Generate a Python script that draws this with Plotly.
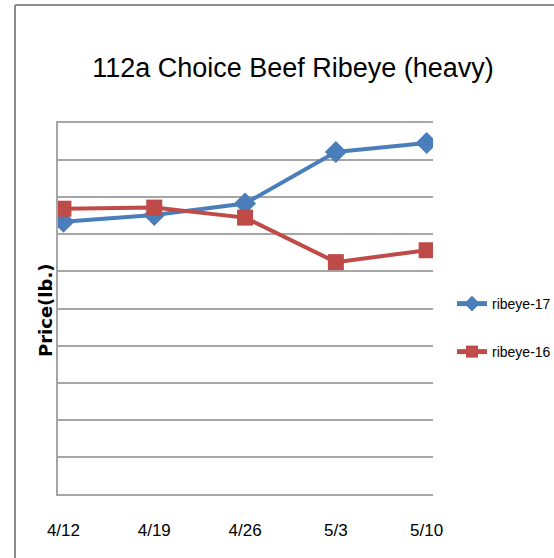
import plotly.graph_objects as go

categories = ["4/12", "4/19", "4/26", "5/3", "5/10"]
ribeye_17 = [7.34, 7.52, 7.83, 9.22, 9.46]
ribeye_16 = [7.69, 7.72, 7.45, 6.25, 6.57]

NARROW = "Liberation Sans Narrow, Arial Narrow, Liberation Sans, Arial, sans-serif"
BLUE = "#4A7EBB"
RED = "#BE4B48"
GRID = "#A6A6A6"

fig = go.Figure()
fig.add_trace(go.Scatter(
    x=categories, y=ribeye_17, name="ribeye-17", mode="lines+markers",
    line=dict(color=BLUE, width=4),
    marker=dict(symbol="diamond", size=17, color=BLUE),
    legend="legend",
))
fig.add_trace(go.Scatter(
    x=categories, y=ribeye_16, name="ribeye-16", mode="lines+markers",
    line=dict(color=RED, width=4),
    marker=dict(symbol="square", size=16, color=RED),
    legend="legend2",
))

W, H = 554, 558
L, R, T, B = 58, 121, 123, 64
pw = W - L - R
ph = H - T - B

def px_to_paper_x(px):
    return (px - L) / pw

def px_to_paper_y(py):
    return (H - B - py) / ph

legend_style = dict(
    xanchor="left", yanchor="middle",
    font=dict(family=NARROW, size=14, color="black"),
    bgcolor="rgba(0,0,0,0)", borderwidth=0,
    itemsizing="constant",
)

fig.update_layout(
    width=W, height=H,
    margin=dict(l=L, r=R, t=T, b=B, pad=0, autoexpand=False),
    paper_bgcolor="white", plot_bgcolor="white",
    title=dict(
        text="112a Choice Beef Ribeye (heavy)",
        font=dict(family=NARROW, size=27, color="black"),
        xref="container", x=293 / W, xanchor="center",
        yref="container", y=1 - 68 / H, yanchor="middle",
    ),
    xaxis=dict(
        type="category", range=[-0.06, 4.07],
        showgrid=False, showline=True, linecolor=GRID, linewidth=2,
        mirror=True,
        ticks="", ticklabelstandoff=20,
        tickfont=dict(family=NARROW, size=17, color="black"),
        zeroline=False, fixedrange=True,
    ),
    yaxis=dict(
        range=[0, 10], dtick=1, showticklabels=False,
        showgrid=True, gridcolor=GRID, gridwidth=2,
        showline=True, linecolor=GRID, linewidth=2,
        zeroline=False, ticks="", fixedrange=True,
    ),
    legend=dict(x=px_to_paper_x(452), y=px_to_paper_y(304), **legend_style),
    legend2=dict(x=px_to_paper_x(452), y=px_to_paper_y(352), **legend_style),
    annotations=[dict(
        text="<b>Price(lb.)</b>", textangle=-90,
        xref="paper", yref="paper",
        x=px_to_paper_x(45), y=px_to_paper_y(311),
        xanchor="center", yanchor="middle", showarrow=False,
        font=dict(family="DejaVu Sans, Verdana, sans-serif", size=18, color="black"),
    )],
    shapes=[
        dict(type="line", xref="paper", yref="paper",
             x0=px_to_paper_x(15), x1=px_to_paper_x(15),
             y0=px_to_paper_y(H + 5), y1=px_to_paper_y(5),
             line=dict(color="#8C8C8C", width=2)),
        dict(type="line", xref="paper", yref="paper",
             x0=px_to_paper_x(15), x1=px_to_paper_x(W + 5),
             y0=px_to_paper_y(5), y1=px_to_paper_y(5),
             line=dict(color="#8C8C8C", width=2)),
    ],
    showlegend=True,
)

fig.write_html(
    "out.html",
    config={"displayModeBar": False},
    post_script="document.body.style.margin='0';document.body.style.overflow='hidden';",
)
